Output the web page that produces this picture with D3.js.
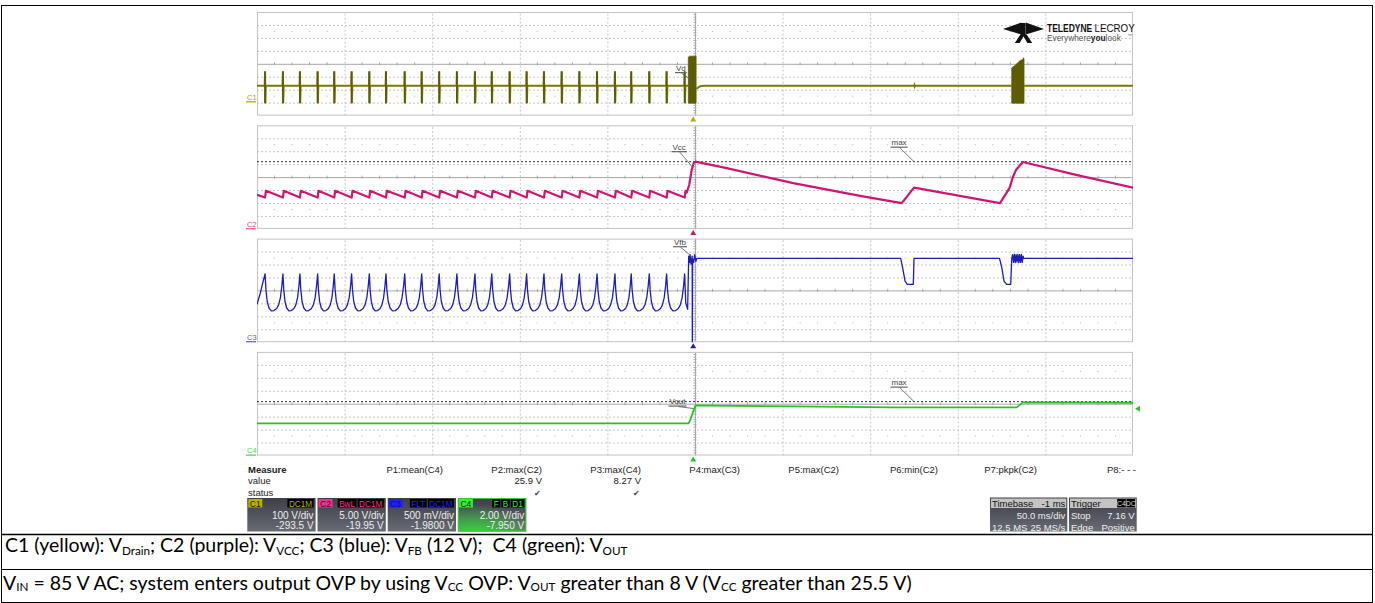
<!DOCTYPE html>
<html>
<head>
<meta charset="utf-8">
<script src="https://cdn.jsdelivr.net/npm/d3@7"></script>
<style>
  body { margin: 0; background: #fff; }
  svg text { font-family: "Liberation Sans", Arial, sans-serif; }
  .caption { font-family: Lato, "Noto Sans", sans-serif; fill: #000; }
</style>
</head>
<body>
<svg id="scope" width="1375" height="603"></svg>
<script>
// ---- channel settings ----
var channelNames = ["C1", "C2", "C3", "C4"];
var voltsPerDiv = [100, 5, 0.5, 2];
var channelOffsets = [-293.5, -19.95, -1.98, -7.95];
var traceLabels = ["Vd", "Vcc", "Vfb", "Vout"];
var vdivText = ["100 V/div", "5.00 V/div", "500 mV/div", "2.00 V/div"];
var offsetText = ["-293.5 V", "-19.95 V", "-1.9800 V", "-7.950 V"];
var channelBadges = [["DC1M"], ["BwL", "DC1M"], ["FLT", "DC1M"], ["F", "B", "D1"]];

// timebase 50 ms/div, 10 div, trigger delay -1 ms
var timeDomain = [-250, 250];
var triggerTime = -1;
var triggerLevel = 7.16;

// switching bursts before OVP (ms)
var pulseTimes = [-245.4, -235.2, -225.5, -215.4, -205.9, -196.0, -185.9, -176.4, -165.7, -156.0,
  -146.0, -135.9, -125.6, -116.0, -105.8, -96.1, -86.2, -76.1, -66.0, -55.9, -45.7, -36.4, -26.1, -16.2, -5.9];

// C1: drain voltage (V)
var c1Base = 124.5, c1SpikeTop = 235, c1SpikeBottom = -10.5;
var c1Burst1 = [[-3.8, -10.5], [-3.8, 345], [-3.2, 352], [0.6, 352], [0.6, -10.5]];
var c1Burst2 = [[180.8, -10.5], [180.8, 262], [183.0, 285], [185.5, 318], [187.2, 327], [187.5, 340], [187.8, 330], [187.8, -10.5]];
var c1AfterBurst = [[0.6, 100], [1.5, 107], [3.0, 120], [5.0, 124.5], [125.0, 124.5], [125.2, 130], [125.4, 119], [125.6, 124.5], [180.8, 124.5]];
var c1End = [[187.8, 124.5], [250, 124.5]];

// C2: Vcc (V)
var c2Start = [-250, 13.1];
var c2SawHigh = 14.66, c2SawLow = 12.07;
var c2Rest = [[-4.7, 14.0], [-3.3, 17.0], [-1.9, 22.8], [-0.6, 25.6], [0.2, 25.9], [18.1, 23.4], [56.1, 17.6],
  [94.2, 12.7], [118.0, 9.9], [125.0, 15.9], [174.1, 9.9], [179.5, 15.7], [181.4, 19.9], [183.3, 22.8],
  [187.1, 25.8], [217.5, 20.8], [250, 15.9]];

// C3: Vfb (V)
var c3Start = [[-250, 1.44], [-248.2, 1.85], [-246.6, 2.3]];
var c3CuspShape = [[0, 2.62], [0.05, 2.0], [0.12, 1.55], [0.22, 1.3], [0.35, 1.19], [0.5, 1.2],
  [0.65, 1.28], [0.76, 1.42], [0.86, 1.7], [0.94, 2.15]];
var c3Rest = [[-5.9, 2.62], [-5.3, 1.5], [-4.2, 1.25], [-3.6, 3.3], [-3.2, 3.05], [-2.8, 3.35], [-2.3, 3.0],
  [-1.6, 3.3], [-1.5, -0.6], [-1.4, 3.2], [-0.8, 3.05], [-0.2, 3.35], [0.5, 3.1], [1.0, 3.215],
  [117.4, 3.215], [118.5, 2.86], [119.9, 2.34], [121.2, 2.21], [124.6, 2.21], [125.0, 3.215],
  [173.8, 3.215], [175.1, 2.86], [176.4, 2.34], [177.9, 2.21], [180.2, 2.21], [180.8, 3.215],
  [181.3, 3.36], [181.8, 3.06], [182.3, 3.37], [182.8, 3.05], [183.3, 3.36], [183.8, 3.07], [184.3, 3.37],
  [184.8, 3.05], [185.3, 3.36], [185.8, 3.06], [186.3, 3.37], [186.8, 3.06], [187.3, 3.3], [187.6, 3.215],
  [250, 3.215]];

// C4: Vout (V)
var c4Points = [[-250, 4.91], [-3.8, 4.91], [-3.0, 5.2], [-1.0, 6.76], [0.4, 7.69], [8.6, 7.64], [56.1, 7.53],
  [113.2, 7.38], [183.6, 7.38], [187.1, 8.15], [250, 8.1]];

// measurements
var measureNames = ["P1:mean(C4)", "P2:max(C2)", "P3:max(C4)", "P4:max(C3)", "P5:max(C2)", "P6:min(C2)", "P7:pkpk(C2)", "P8:- - -"];
var measureValues = ["", "25.9 V", "8.27 V", "", "", "", "", ""];
var measureStatus = ["", "\u2714", "\u2714", "", "", "", "", ""];
var maxMarkers = [{ ch: 1, value: 25.9 }, { ch: 3, value: 8.27 }];

var timebaseRows = [["Timebase", "-1 ms"], ["", "50.0 ms/div"], ["12.5 MS", "25 MS/s"]];
var triggerRows = [["Trigger", ""], ["Stop", "7.16 V"], ["Edge", "Positive"]];

var captionRow1 = [["C1 (yellow): V", ""], ["Drain", "s"], ["; C2 (purple): V", ""], ["VCC", "s"],
  ["; C3 (blue): V", ""], ["FB", "s"], [" (12 V);\u00a0 C4 (green): V", ""], ["OUT", "s"]];
var captionRow2 = [["V", ""], ["IN", "c"], [" = 85 V AC; system enters output OVP by using V", ""], ["CC", "c"],
  [" OVP: V", ""], ["OUT", "c"], [" greater than 8 V (V", ""], ["CC", "c"], [" greater than 25.5 V)", ""]];

// ---- layout ----
var colors = ["#7c7a06", "#cf1670", "#1c1cb8", "#26c226"];
var labelColors = ["#aaa400", "#ff3a9a", "#5a5aff", "#3fdc3f"];
var badgeColors = ["#b4b000", "#ff2a90", "#2020ff", "#30f030"];
var plotLeft = 257, plotRight = 1133;
var panelTop0 = 12, panelStep = 113.3, panelHeight = 103.6;

var svg = d3.select("#scope");
var defs = svg.append("defs");

// outer table
svg.append("rect").attr("x", 1.5).attr("y", 5.5).attr("width", 1371).attr("height", 597)
  .attr("fill", "none").attr("stroke", "#000");
svg.append("line").attr("x1", 1).attr("x2", 1373).attr("y1", 534.5).attr("y2", 534.5).attr("stroke", "#000").attr("stroke-width", 1.5);
svg.append("line").attr("x1", 1).attr("x2", 1373).attr("y1", 569.5).attr("y2", 569.5).attr("stroke", "#000");

var xScale = d3.scaleLinear().domain(timeDomain).range([plotLeft, plotRight]);
var plotW = plotRight - plotLeft;

function panelScale(i) {
  var top = panelTop0 + i * panelStep;
  var center = -channelOffsets[i];
  return d3.scaleLinear()
    .domain([center - 4 * voltsPerDiv[i], center + 4 * voltsPerDiv[i]])
    .range([top + panelHeight, top]);
}

function X(d) { return xScale(d[0]); }

// build series
function c1Series() {
  var base = [[-250, c1Base]];
  pulseTimes.forEach(function (t) {
    base.push([t - 0.2, c1Base], [t, c1SpikeTop], [t + 0.15, c1SpikeBottom], [t + 0.4, c1Base]);
  });
  base.push([-3.8, c1Base]);
  return base;
}
function c2Series() {
  var pts = [c2Start];
  pulseTimes.forEach(function (t) {
    pts.push([t, c2SawLow], [t + 0.5, c2SawHigh]);
  });
  return pts.concat(c2Rest);
}
function c3Series() {
  var pts = c3Start.slice();
  for (var k = 0; k < pulseTimes.length - 1; k++) {
    var t0 = pulseTimes[k], t1 = pulseTimes[k + 1];
    c3CuspShape.forEach(function (p) { pts.push([t0 + p[0] * (t1 - t0), p[1]]); });
  }
  return pts.concat(c3Rest);
}

var seriesData = [c1Series(), c2Series(), c3Series(), c4Points];
var strokeW = [2, 2.2, 1.3, 1.8];

channelNames.forEach(function (name, i) {
  var y = panelScale(i);
  var top = panelTop0 + i * panelStep, bottom = top + panelHeight;
  var g = svg.append("g").attr("class", "panel");

  defs.append("clipPath").attr("id", "clip" + i).append("rect")
    .attr("x", plotLeft).attr("y", top).attr("width", plotW).attr("height", panelHeight);

  // vertical grid
  g.append("g")
    .attr("transform", "translate(0," + bottom + ")")
    .call(d3.axisBottom(xScale).tickValues(d3.range(-200, 201, 50)).tickSize(-panelHeight).tickFormat(""))
    .call(function (a) { a.select(".domain").remove(); })
    .selectAll("line")
    .attr("stroke", function (d) { return d === 0 ? "#a8a8a8" : "#c6c6c6"; })
    .attr("stroke-dasharray", function (d) { return d === 0 ? null : "2,2"; });

  // horizontal grid
  var center = -channelOffsets[i];
  var hVals = d3.range(-3, 4).map(function (k) { return center + k * voltsPerDiv[i]; });
  g.append("g")
    .attr("transform", "translate(" + plotLeft + ",0)")
    .call(d3.axisLeft(y).tickValues(hVals).tickSize(-plotW).tickFormat(""))
    .call(function (a) { a.select(".domain").remove(); })
    .selectAll("line")
    .attr("stroke", function (d, k) { return k === 3 ? "#a8a8a8" : "#c6c6c6"; })
    .attr("stroke-dasharray", function (d, k) { return k === 3 ? null : "2,2"; });

  // minor ticks on center lines
  var cy = y(center);
  g.selectAll(".hx").data(d3.range(-240, 250, 10).filter(function (t) { return t % 50 !== 0; }))
    .enter().append("line")
    .attr("x1", xScale).attr("x2", xScale).attr("y1", cy - 1.5).attr("y2", cy + 1.5)
    .attr("stroke", "#a8a8a8");
  g.selectAll(".vx").data(d3.range(-3.8, 3.9, 0.2).filter(function (v) { return Math.abs(v * 5 - Math.round(v) * 5) > 0.01; }))
    .enter().append("line")
    .attr("x1", xScale(0) - 1.5).attr("x2", xScale(0) + 1.5)
    .attr("y1", function (v) { return y(center + v * voltsPerDiv[i]); })
    .attr("y2", function (v) { return y(center + v * voltsPerDiv[i]); })
    .attr("stroke", "#a8a8a8");
  // dot rows
  [2.5, -2.5].forEach(function (dv) {
    g.selectAll(null).data(d3.range(-240, 250, 10).filter(function (t) { return t % 50 !== 0; }))
      .enter().append("rect")
      .attr("x", function (t) { return xScale(t) - 0.5; })
      .attr("y", y(center + dv * voltsPerDiv[i]) - 0.5)
      .attr("width", 1).attr("height", 1).attr("fill", "#b4b4b4");
  });

  // panel border
  g.append("rect").attr("x", plotLeft + 0.5).attr("y", top + 0.5).attr("width", plotW - 1).attr("height", panelHeight - 1)
    .attr("fill", "none").attr("stroke", "#c4c4c4");

  var tg = g.append("g").attr("clip-path", "url(#clip" + i + ")");
  var line = d3.line().x(X).y(function (d) { return y(d[1]); });

  // max marker dashed lines
  maxMarkers.filter(function (m) { return m.ch === i; }).forEach(function (m) {
    tg.append("line").attr("x1", plotLeft).attr("x2", plotRight)
      .attr("y1", y(m.value)).attr("y2", y(m.value))
      .attr("stroke", "#333").attr("stroke-dasharray", "2,2");
  });

  if (i === 0) {
    tg.append("path").attr("d", line(seriesData[0])).attr("fill", "none")
      .attr("stroke", colors[0]).attr("stroke-width", 2);
    tg.selectAll(".spike").data(pulseTimes).enter().append("line")
      .attr("x1", xScale).attr("x2", xScale)
      .attr("y1", y(c1SpikeTop)).attr("y2", y(c1SpikeBottom))
      .attr("stroke", "#5c5a00").attr("stroke-width", 1.7);
    [c1Burst1, c1Burst2].forEach(function (b) {
      tg.append("path").attr("d", line(b) + "Z").attr("fill", "#5e5c02").attr("stroke", "#5e5c02").attr("stroke-width", 0.8);
    });
    [c1AfterBurst, c1End].forEach(function (s) {
      tg.append("path").attr("d", line(s)).attr("fill", "none").attr("stroke", colors[0]).attr("stroke-width", 2);
    });
  } else {
    tg.append("path").attr("d", line(seriesData[i])).attr("fill", "none")
      .attr("stroke", colors[i]).attr("stroke-width", strokeW[i]).attr("stroke-linejoin", "round");
  }

  // channel label at ground level
  var gy = Math.min(y(0), bottom);
  g.append("text").attr("x", 247).attr("y", gy - 2).attr("font-size", 7.5)
    .attr("fill", labelColors[i]).text(name);
  g.append("line").attr("x1", 246).attr("x2", 256).attr("y1", gy).attr("y2", gy)
    .attr("stroke", labelColors[i]).attr("stroke-width", 1.2);

  // trigger position marker below panel
  var tx = xScale(triggerTime);
  g.append("path").attr("d", "M" + (tx - 3) + "," + (bottom + 6) + "L" + (tx + 3) + "," + (bottom + 6) + "L" + tx + "," + (bottom + 1) + "Z")
    .attr("fill", i === 0 ? "#b4ac00" : colors[i]);
});

// trigger level marker on C4
(function () {
  var y = panelScale(3), ty = y(triggerLevel);
  svg.append("path").attr("d", "M" + (plotRight + 7) + "," + (ty - 3) + "L" + (plotRight + 7) + "," + (ty + 3) + "L" + (plotRight + 2) + "," + ty + "Z")
    .attr("fill", colors[3]);
})();

// trace annotations (label + underline + leader)
var annotations = [
  { ch: 0, text: traceLabels[0], tx: 676, t: -1.2, v: 160, dy: -8 },
  { ch: 1, text: traceLabels[1], tx: 672.5, t: -1.0, v: 23.4, dy: -16 },
  { ch: 2, text: traceLabels[2], tx: 674, t: -2.0, v: 3.3, dy: -9 },
  { ch: 3, text: traceLabels[3], tx: 669.5, t: -0.8, v: 7.2, dy: -2 },
  { ch: 1, text: "max", tx: 891.5, t: 125, v: 25.9, dy: -14 },
  { ch: 3, text: "max", tx: 891.5, t: 125, v: 8.27, dy: -14 }
];
annotations.forEach(function (a) {
  var y = panelScale(a.ch);
  var px = xScale(a.t), py = y(a.v);
  var ly = py + a.dy;
  var t = svg.append("text").attr("x", a.tx).attr("y", ly - 2.5).attr("font-size", 8).attr("fill", "#444").text(a.text);
  var w = t.node().getComputedTextLength();
  svg.append("line").attr("x1", a.tx - 1).attr("x2", a.tx + w + 1).attr("y1", ly - 0.5).attr("y2", ly - 0.5)
    .attr("stroke", "#666").attr("stroke-width", 1.2);
  svg.append("line").attr("x1", a.tx + w * 0.55).attr("x2", px).attr("y1", ly).attr("y2", py)
    .attr("stroke", "#555").attr("stroke-width", 0.8);
});

// ---- measure table ----
var mt = svg.append("g").attr("font-size", 9.5).attr("fill", "#222");
mt.append("text").attr("x", 248).attr("y", 472.5).attr("font-weight", "bold").text("Measure");
mt.append("text").attr("x", 248).attr("y", 484).text("value");
mt.append("text").attr("x", 248).attr("y", 495.5).text("status");
var colRight = d3.scaleLinear().domain([0, 7]).range([443, 1136]);
measureNames.forEach(function (n, k) {
  var rx = colRight(k);
  mt.append("text").attr("x", rx).attr("y", 472.5).attr("text-anchor", "end").text(n);
  mt.append("text").attr("x", rx).attr("y", 484).attr("text-anchor", "end").text(measureValues[k]);
  mt.append("text").attr("x", rx - 5).attr("y", 495.5).attr("text-anchor", "middle").attr("font-family", "DejaVu Sans")
    .attr("font-size", 8).attr("fill", "#444").text(measureStatus[k]);
});

// ---- descriptor boxes ----
var grad = defs.append("linearGradient").attr("id", "boxGrad").attr("x1", 0).attr("y1", 0).attr("x2", 0).attr("y2", 1);
grad.append("stop").attr("offset", "0%").attr("stop-color", "#3c3f47");
grad.append("stop").attr("offset", "100%").attr("stop-color", "#686b73");
var ggrad = defs.append("radialGradient").attr("id", "greenGlow").attr("cx", 0.25).attr("cy", 1.1).attr("r", 0.9);
ggrad.append("stop").attr("offset", "0%").attr("stop-color", "#30e030").attr("stop-opacity", 1);
ggrad.append("stop").attr("offset", "100%").attr("stop-color", "#30e030").attr("stop-opacity", 0);

var boxY = 498, boxH = 33.5, boxW = 68.3;
channelNames.forEach(function (name, i) {
  var bx = 247.3 + i * 70.2;
  var b = svg.append("g");
  b.append("rect").attr("x", bx).attr("y", boxY).attr("width", boxW).attr("height", boxH).attr("fill", "url(#boxGrad)");
  if (i === 3) {
    b.append("rect").attr("x", bx).attr("y", boxY).attr("width", boxW).attr("height", boxH).attr("fill", "url(#greenGlow)");
    b.append("rect").attr("x", bx + 0.5).attr("y", boxY + 0.5).attr("width", boxW - 1).attr("height", boxH - 1)
      .attr("fill", "none").attr("stroke", "#2ed02e");
  }
  b.append("rect").attr("x", bx + 1).attr("y", boxY + 1).attr("width", 14).attr("height", 8.5).attr("fill", badgeColors[i]);
  b.append("text").attr("x", bx + 2.5).attr("y", boxY + 8.5).attr("font-size", 8.5)
    .attr("fill", i === 2 ? "#0a0a90" : "#1a1a1a").text(name);
  var rx = bx + boxW - 2;
  channelBadges[i].slice().reverse().forEach(function (txt) {
    var t = b.append("text").attr("y", boxY + 8.6).attr("font-size", 8.2).attr("fill", badgeColors[i]).attr("text-anchor", "end")
      .attr("x", rx - 1.5).text(txt);
    var w = t.node().getComputedTextLength() + 3;
    b.insert("rect", "text:last-child").attr("x", rx - w).attr("y", boxY + 1).attr("width", w).attr("height", 8.5).attr("fill", "#000");
    t.raise();
    rx -= w + 1;
  });
  b.append("text").attr("x", bx + boxW - 2).attr("y", boxY + 20.5).attr("text-anchor", "end").attr("font-size", 10)
    .attr("fill", "#eee").text(vdivText[i]);
  b.append("text").attr("x", bx + boxW - 2).attr("y", boxY + 31).attr("text-anchor", "end").attr("font-size", 10)
    .attr("fill", "#eee").text(offsetText[i]);
});

function infoBox(bx, w, rows, badge) {
  var b = svg.append("g");
  b.append("rect").attr("x", bx).attr("y", 497.5).attr("width", w).attr("height", 34).attr("fill", "url(#boxGrad)");
  b.append("rect").attr("x", bx + 1).attr("y", 498.5).attr("width", w - 2).attr("height", 9.5).attr("fill", "#c4c4c4");
  rows.forEach(function (r, k) {
    var yy = 506.8 + k * 12;
    var fill = k === 0 ? "#111" : "#eee";
    b.append("text").attr("x", bx + 2).attr("y", yy).attr("font-size", 9.5).attr("fill", fill).text(r[0]);
    b.append("text").attr("x", bx + w - 2).attr("y", yy).attr("font-size", 9.5).attr("fill", fill).attr("text-anchor", "end").text(r[1]);
  });
  if (badge) {
    ["C4", "DC"].forEach(function (s, k) {
      b.append("rect").attr("x", bx + w - 19.5 + k * 9.2).attr("y", 499).attr("width", 8.6).attr("height", 8.5).attr("fill", "#000");
      b.append("text").attr("x", bx + w - 15.2 + k * 9.2).attr("y", 506.3).attr("text-anchor", "middle")
        .attr("font-size", 7).attr("fill", "#d8d8d8").text(s);
    });
  }
}
infoBox(990, 77.3, timebaseRows, false);
infoBox(1069, 67.7, triggerRows, true);

// ---- logo ----
var logo = svg.append("g");
logo.append("path").attr("fill", "#111")
  .attr("d", "M1003,29L1021.3,22.6L1021.3,34.5Z M1044,29L1025.7,22.6L1025.7,34.5Z " +
    "M1021,23L1026,23L1026,33.6L1032.2,43L1027.4,43L1023.5,36.4L1019.6,43L1014.8,43L1021,33.6Z");
logo.append("g").attr("transform", "translate(1047,31.5) scale(0.85,1)")
  .append("text").attr("font-size", 10).attr("font-weight", "bold").attr("fill", "#111").text("TELEDYNE");
logo.append("g").attr("transform", "translate(1094.5,31.5) scale(0.98,1)")
  .append("text").attr("font-size", 10).attr("fill", "#111").text("LECROY");
logo.append("text").attr("x", 1047).attr("y", 40.5).attr("font-size", 8.3).attr("fill", "#555")
  .call(function (t) {
    t.append("tspan").text("Everywhere");
    t.append("tspan").attr("font-weight", "bold").attr("fill", "#222").text("you");
    t.append("tspan").text("look");
  });
logo.append("text").attr("x", 1127.5).attr("y", 37).attr("font-size", 4.5).attr("fill", "#555").text("\u2122");

// ---- captions ----
function caption(parts, x, yb, subShift) {
  var t = svg.append("text").attr("class", "caption").attr("x", x).attr("y", yb).attr("font-size", 17);
  parts.forEach(function (p) {
    var s = t.append("tspan").text(p[0]);
    if (p[1]) {
      s.attr("font-size", "0.6em").attr("dy", subShift);
    } else {
      s.attr("dy", 0).attr("y", yb);
    }
  });
  return t;
}
var row1 = caption(captionRow1, 5, 552, 3);
var row2 = caption(captionRow2, 3, 590, 0.5);
var fit = 909 / row2.node().getBBox().width;
row1.attr("font-size", 17 * fit);
row2.attr("font-size", 17 * fit);
</script>
</body>
</html>
